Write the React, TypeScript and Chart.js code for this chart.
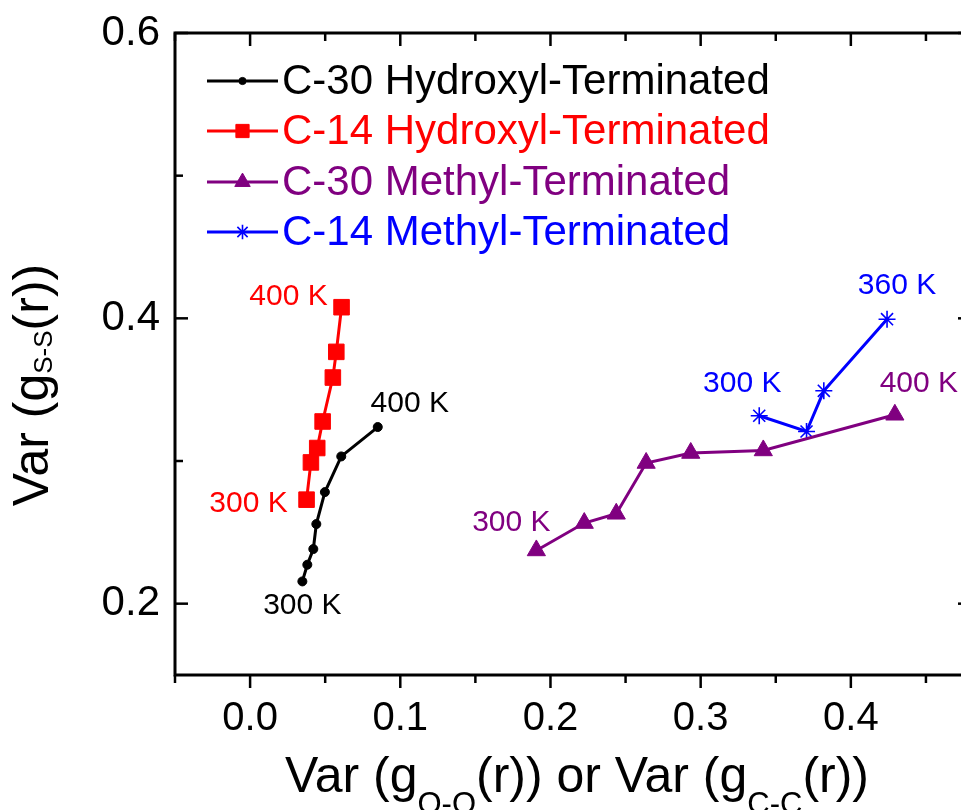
import React, { useEffect, useRef } from 'react';
import { Chart, registerables } from 'chart.js';
import { drawPoint } from 'chart.js/helpers';

Chart.register(...registerables);

// ---- data ----
const seriesNames = [
  'C-30 Hydroxyl-Terminated',
  'C-14 Hydroxyl-Terminated',
  'C-30 Methyl-Terminated',
  'C-14 Methyl-Terminated',
];
const c30HydroxylX = [0.0348, 0.0381, 0.0421, 0.0441, 0.0498, 0.0607, 0.085];
const c30HydroxylY = [0.2156, 0.2273, 0.2383, 0.2558, 0.2782, 0.3032, 0.3238];
const c14HydroxylX = [0.0376, 0.0405, 0.0447, 0.0483, 0.0551, 0.0574, 0.0609];
const c14HydroxylY = [0.2729, 0.299, 0.3091, 0.3277, 0.3585, 0.3765, 0.4078];
const c30MethylX = [0.1906, 0.2225, 0.2438, 0.2637, 0.2934, 0.3417, 0.4293];
const c30MethylY = [0.2373, 0.2565, 0.263, 0.2986, 0.3056, 0.3074, 0.3324];
const c14MethylX = [0.339, 0.3705, 0.382, 0.4241];
const c14MethylY = [0.3317, 0.3207, 0.3492, 0.3994];

const xMajorTicks = [0.0, 0.1, 0.2, 0.3, 0.4];
const xMinorTicks = [-0.05, 0.05, 0.15, 0.25, 0.35, 0.45];
const yMajorTicks = [0.2, 0.4, 0.6];
const yMinorTicks = [0.3, 0.5];
const xRange = [-0.05, 0.48];
const yRange = [0.15, 0.6];

// temperature labels: [series index, 'first' | 'last', text]
const tempLabels: [number, string, string][] = [
  [0, 'first', '300 K'],
  [0, 'last', '400 K'],
  [1, 'first', '300 K'],
  [1, 'last', '400 K'],
  [2, 'first', '300 K'],
  [2, 'last', '400 K'],
  [3, 'first', '300 K'],
  [3, 'last', '360 K'],
];

// axis titles: [text, isSubscript]
const xTitleParts: [string, boolean][] = [
  ['Var (g', false],
  ['O-O', true],
  ['(r)) or Var (g', false],
  ['C-C', true],
  ['(r))', false],
];
const yTitleParts: [string, boolean][] = [
  ['Var (g', false],
  ['S-S', true],
  ['(r))', false],
];

// ---- styles ----
const FONT = '"Liberation Sans", Arial, Helvetica, sans-serif';
const colors = ['#000000', '#ff0000', '#800080', '#0000ff'];
const pointStyles = ['circle', 'rect', 'triangle', 'star'];
const pointRadii = [4.5, 11, 10.5, 8.5];
const pointBorderWidths = [1, 1, 1, 1.6];
// pixel offsets of the temperature labels from their anchor points
const labelOffsets = [
  [0, 24],
  [32, -23],
  [-58, 4],
  [-53, -10],
  [-25, -28],
  [24, -31],
  [-17, -32],
  [10, -33],
];

const xs = [c30HydroxylX, c14HydroxylX, c30MethylX, c14MethylX];
const ys = [c30HydroxylY, c14HydroxylY, c30MethylY, c14MethylY];

function drawParts(ctx: CanvasRenderingContext2D, parts: [string, boolean][], mainSize: number, subSize: number, subShift: number) {
  const mainFont = `${mainSize}px ${FONT}`;
  const subFont = `${subSize}px ${FONT}`;
  let total = 0;
  const widths = parts.map(([t, s]) => {
    ctx.font = s ? subFont : mainFont;
    const w = ctx.measureText(t).width;
    total += w;
    return w;
  });
  let x = -total / 2;
  parts.forEach(([t, s], i) => {
    ctx.font = s ? subFont : mainFont;
    ctx.fillText(t, x, s ? subShift : 0);
    x += widths[i];
  });
}

const decorPlugin = {
  id: 'decor',
  beforeDatasetsDraw(chart: any) {
    const { ctx, chartArea: a, scales } = chart;
    const xs_ = scales.x;
    const ys_ = scales.y;
    ctx.save();
    ctx.strokeStyle = '#000';
    ctx.lineWidth = 3;
    ctx.lineCap = 'butt';
    ctx.strokeRect(a.left, a.top, a.right - a.left, a.bottom - a.top);
    ctx.lineWidth = 2.5;
    const tick = (x1: number, y1: number, x2: number, y2: number) => {
      ctx.beginPath();
      ctx.moveTo(x1, y1);
      ctx.lineTo(x2, y2);
      ctx.stroke();
    };
    const major = 13;
    const minor = 8;
    xMajorTicks.forEach((v) => {
      const p = xs_.getPixelForValue(v);
      tick(p, a.bottom, p, a.bottom + major);
      tick(p, a.top, p, a.top + major);
    });
    xMinorTicks.forEach((v) => {
      const p = xs_.getPixelForValue(v);
      tick(p, a.bottom, p, a.bottom + minor);
      tick(p, a.top, p, a.top + minor);
    });
    yMajorTicks.forEach((v) => {
      const p = ys_.getPixelForValue(v);
      tick(a.left, p, a.left + major, p);
      tick(a.right, p, a.right - major, p);
    });
    yMinorTicks.forEach((v) => {
      const p = ys_.getPixelForValue(v);
      tick(a.left, p, a.left + minor, p);
      tick(a.right, p, a.right - minor, p);
    });
    ctx.restore();
  },
  afterDraw(chart: any) {
    const { ctx, chartArea: a } = chart;
    ctx.save();
    // temperature labels
    ctx.font = `30px ${FONT}`;
    ctx.textAlign = 'center';
    ctx.textBaseline = 'middle';
    tempLabels.forEach(([si, which, text], i) => {
      const meta = chart.getDatasetMeta(si);
      const el = which === 'first' ? meta.data[0] : meta.data[meta.data.length - 1];
      ctx.fillStyle = colors[si];
      ctx.fillText(text, el.x + labelOffsets[i][0], el.y + labelOffsets[i][1]);
    });

    // legend
    const rowY = [81, 131, 182, 232];
    const lx0 = 207;
    const lx1 = 278;
    const tx = 282;
    ctx.textAlign = 'left';
    seriesNames.forEach((name, i) => {
      const y = rowY[i];
      ctx.strokeStyle = colors[i];
      ctx.fillStyle = colors[i];
      ctx.lineWidth = 3;
      ctx.beginPath();
      ctx.moveTo(lx0, y);
      ctx.lineTo(lx1, y);
      ctx.stroke();
      ctx.lineWidth = pointBorderWidths[i];
      drawPoint(ctx, { pointStyle: pointStyles[i], radius: pointRadii[i] * (i === 0 ? 0.8 : 0.85), borderWidth: pointBorderWidths[i], rotation: 0 } as any, (lx0 + lx1) / 2, y);
      ctx.fillStyle = colors[i];
      ctx.font = `42px ${FONT}`;
      ctx.textBaseline = 'middle';
      ctx.fillText(name, tx, y + 1);
    });

    // axis titles
    ctx.fillStyle = '#000';
    ctx.textAlign = 'left';
    ctx.textBaseline = 'alphabetic';
    ctx.save();
    ctx.translate((a.left + a.right) / 2 + 4, 792);
    drawParts(ctx, xTitleParts, 50, 31, 22);
    ctx.restore();
    ctx.save();
    ctx.translate(48, 385);
    ctx.rotate(-Math.PI / 2);
    drawParts(ctx, yTitleParts, 50, 26, 4);
    ctx.restore();
    ctx.restore();
  },
};

export default function App() {
  const ref = useRef<HTMLCanvasElement | null>(null);
  useEffect(() => {
    if (!ref.current) return;
    const datasets = seriesNames.map((name, i) => ({
      label: name,
      data: xs[i].map((x, j) => ({ x, y: ys[i][j] })),
      showLine: true,
      borderColor: colors[i],
      backgroundColor: colors[i],
      borderWidth: 3,
      pointStyle: pointStyles[i],
      pointRadius: pointRadii[i],
      pointBackgroundColor: colors[i],
      pointBorderColor: colors[i],
      pointBorderWidth: pointBorderWidths[i],
      pointHoverRadius: pointRadii[i],
      clip: false,
    }));
    const chart = new Chart(ref.current, {
      type: 'scatter',
      data: { datasets },
      plugins: [decorPlugin],
      options: {
        animation: false,
        responsive: false,
        events: [],
        layout: { padding: { left: 0, top: 33, right: 29, bottom: 0 } },
        plugins: { legend: { display: false }, tooltip: { enabled: false } },
        scales: {
          x: {
            type: 'linear',
            min: xRange[0],
            max: xRange[1],
            afterBuildTicks: (s: any) => {
              s.ticks = xMajorTicks.map((v) => ({ value: v }));
            },
            afterFit: (s: any) => {
              s.height = 135;
              s.paddingLeft = 0;
              s.paddingRight = 0;
              s.paddingTop = 0;
              s.paddingBottom = 0;
            },
            grid: { display: false, drawTicks: false },
            border: { display: false },
            ticks: {
              color: '#000',
              padding: 20,
              font: { family: FONT, size: 40 },
              callback: (v: any) => Number(v).toFixed(1),
            },
          },
          y: {
            type: 'linear',
            min: yRange[0],
            max: yRange[1],
            afterBuildTicks: (s: any) => {
              s.ticks = yMajorTicks.map((v) => ({ value: v }));
            },
            afterFit: (s: any) => {
              s.width = 175;
              s.paddingLeft = 0;
              s.paddingRight = 0;
              s.paddingTop = 0;
              s.paddingBottom = 0;
            },
            grid: { display: false, drawTicks: false },
            border: { display: false },
            ticks: {
              color: '#000',
              padding: 15,
              font: { family: FONT, size: 42 },
              callback: (v: any) => Number(v).toFixed(1),
            },
          },
        },
      },
    });
    return () => chart.destroy();
  }, []);
  return (
    <div
      style={{
        position: 'fixed',
        left: 0,
        top: 0,
        width: 961,
        height: 810,
        overflow: 'hidden',
        background: '#fff',
      }}
    >
      <canvas ref={ref} width={1000} height={810} style={{ width: 1000, height: 810, display: 'block' }} />
    </div>
  );
}
